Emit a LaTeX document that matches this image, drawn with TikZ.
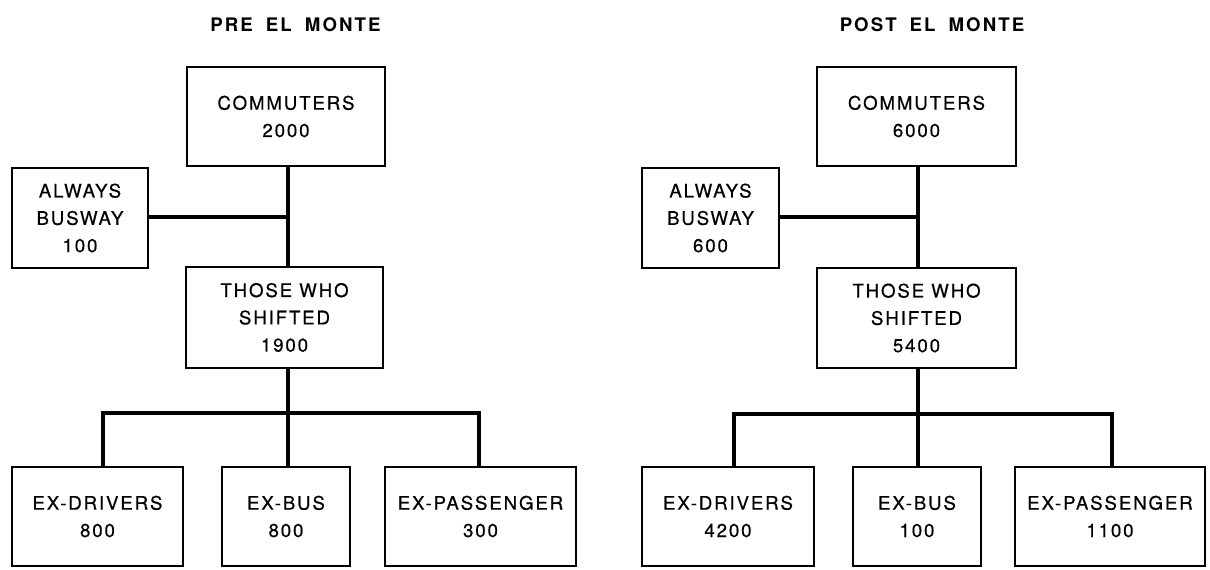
\documentclass[tikz,border=0pt]{standalone}
\usepackage{fontspec}
\setmainfont{TeX Gyre Heros}[LetterSpace=10]
\newfontfamily\labfont{TeX Gyre Heros}[LetterSpace=10,FakeBold=0.5]
\newfontfamily\ttlfont{TeX Gyre Heros Bold}[LetterSpace=11,WordSpace=1.8]
\usetikzlibrary{shadows,calc}
\tikzset{
  box/.style={draw=black, line width=1.8pt, fill=white, align=center,
    inner sep=0pt, font=\labfont\fontsize{14}{20.5}\selectfont,
    drop shadow={shadow xshift=1pt, shadow yshift=-1pt, fill=black, opacity=1}},
  link/.style={line width=2.6pt},
  ttl/.style={inner sep=0pt, font=\ttlfont\fontsize{14}{16}\selectfont}
}
\begin{document}
\begin{tikzpicture}[x=0.75pt,y=-0.75pt]
\useasboundingbox (0,0) rectangle (1210,570);
% ---------- PRE EL MONTE ----------
\node[ttl] (t1) at (295.5,24.5) {PRE EL MONTE};
\node[box, minimum width=148.5pt, minimum height=74.25pt] (C1) at (286,116.5) {COMMUTERS\\2000};
\node[box, minimum width=102pt, minimum height=75pt] (A1) at (80,218) {ALWAYS\\BUSWAY\\100};
\node[box, minimum width=147.75pt, minimum height=75.75pt] (T1) at (284.5,317.5) {THOSE WHO\\SHIFTED\\1900};
\node[box, minimum width=128.25pt, minimum height=74.25pt] (D1) at (97.5,516.5) {EX-DRIVERS\\800};
\node[box, minimum width=96pt, minimum height=74.25pt] (B1) at (286,516.5) {EX-BUS\\800};
\node[box, minimum width=143.25pt, minimum height=74.25pt] (P1) at (480.5,516.5) {EX-PASSENGER\\300};
\coordinate (v1) at (288,217);
\coordinate (bus1) at (288,413);
\coordinate (dl1) at (103,413);
\coordinate (dr1) at (479,413);
\draw[link] (v1 |- C1.south) -- (v1 |- T1.north);
\draw[link] (A1.east |- v1) -- (v1);
\draw[link] (bus1 |- T1.south) -- (bus1);
\draw[link] (dl1 |- D1.north) -- (dl1) -- (dr1) -- (dr1 |- P1.north);
\draw[link] (bus1) -- (bus1 |- B1.north);
% ---------- POST EL MONTE ----------
\node[ttl] (t2) at (932,24.5) {POST EL MONTE};
\node[box, minimum width=149.25pt, minimum height=74.25pt] (C2) at (916.5,116.5) {COMMUTERS\\6000};
\node[box, minimum width=102.75pt, minimum height=75pt] (A2) at (710.5,218) {ALWAYS\\BUSWAY\\600};
\node[box, minimum width=149.25pt, minimum height=75pt] (T2) at (916.5,318) {THOSE WHO\\SHIFTED\\5400};
\node[box, minimum width=129pt, minimum height=74.25pt] (D2) at (728,516.5) {EX-DRIVERS\\4200};
\node[box, minimum width=96pt, minimum height=74.25pt] (B2) at (917,516.5) {EX-BUS\\100};
\node[box, minimum width=142.5pt, minimum height=74.25pt] (P2) at (1110,516.5) {EX-PASSENGER\\1100};
\coordinate (v2) at (918,217);
\coordinate (bus2) at (918,414);
\coordinate (dl2) at (734,414);
\coordinate (dr2) at (1112,414);
\draw[link] (v2 |- C2.south) -- (v2 |- T2.north);
\draw[link] (A2.east |- v2) -- (v2);
\draw[link] (bus2 |- T2.south) -- (bus2);
\draw[link] (dl2 |- D2.north) -- (dl2) -- (dr2) -- (dr2 |- P2.north);
\draw[link] (bus2) -- (bus2 |- B2.north);
\end{tikzpicture}
\end{document}
